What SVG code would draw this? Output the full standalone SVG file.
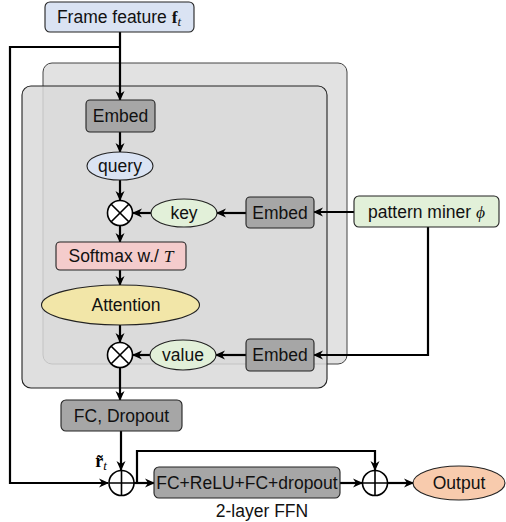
<svg xmlns="http://www.w3.org/2000/svg" width="506" height="522" viewBox="0 0 506 522">
<defs>
<marker id="arr" viewBox="0 0 10 10" refX="9" refY="5" markerWidth="10" markerHeight="10" markerUnits="userSpaceOnUse" orient="auto">
<path d="M0,0.5 L10,5 L0,9.5 L3,5 z" fill="#000"/>
</marker>
<style>
.t{font-family:"Liberation Sans",Arial,sans-serif;font-size:17.5px;fill:#111;text-anchor:middle;dominant-baseline:central}
.c{fill:none;stroke:#000;stroke-width:2.2}
.a{marker-end:url(#arr)}
.n{stroke:#222;stroke-width:1.1}
.emb{fill:#a6a6a6}
.op{fill:#fff;stroke:#000;stroke-width:1.6}
</style>
</defs>
<rect width="506" height="522" fill="#fff"/>
<g id="layer-back"><rect x="43" y="63" width="304" height="301" rx="9" fill="#e2e2e2" stroke="#444" stroke-width="1"/></g>
<g id="layer-front"><rect x="22" y="86" width="305" height="302" rx="9" fill="#d9d9d9" fill-opacity="0.85" stroke="#222" stroke-width="1.1"/></g>

<g id="connectors">
<path class="c a" d="M120,32 V100"/>
<path class="c a" d="M120,47 H10 V483 H108"/>
<path class="c a" d="M120,132 V152"/>
<path class="c a" d="M120,180 V200"/>
<path class="c a" d="M151,213 H133"/>
<path class="c a" d="M246,213 H217"/>
<path class="c a" d="M354,212 H314"/>
<path class="c a" d="M120,226 V242"/>
<path class="c a" d="M120,270 V285"/>
<path class="c a" d="M120,325 V342"/>
<path class="c a" d="M150,355 H133"/>
<path class="c a" d="M246,355 H216"/>
<path class="c a" d="M428,227 V355 H314"/>
<path class="c a" d="M120,368 V400"/>
<path class="c a" d="M121,431 V470"/>
<path class="c a" d="M134,483 H154"/>
<path class="c a" d="M137,483 V451 H375 V470"/>
<path class="c a" d="M340,483 H362"/>
<path class="c a" d="M388,483 H413"/>
</g>

<g id="frame-feature"><rect class="n" x="45" y="2" width="149" height="30" rx="5" fill="#dae3f3"/>
<text class="t" x="119" y="17"><tspan>Frame feature </tspan><tspan font-family="Liberation Serif,serif" font-weight="bold">f</tspan><tspan font-family="Liberation Serif,serif" font-style="italic" font-size="13" dy="4">t</tspan></text></g>

<g id="embed-query"><rect class="n emb" x="86" y="100" width="69" height="32" rx="4"/><text class="t" x="120.5" y="116">Embed</text></g>
<g id="query"><ellipse class="n" cx="120" cy="166" rx="33" ry="14" fill="#dae3f3"/><text class="t" x="120" y="166">query</text></g>
<g id="mul1"><circle class="op" cx="120" cy="213" r="12.5"/><path d="M111.2,204.2 L128.8,221.8 M128.8,204.2 L111.2,221.8" stroke="#000" stroke-width="1.6"/></g>
<g id="key"><ellipse class="n" cx="184" cy="213" rx="33" ry="14" fill="#e2f0d9"/><text class="t" x="184" y="213">key</text></g>
<g id="embed-key"><rect class="n emb" x="246" y="197" width="68" height="31" rx="4"/><text class="t" x="280" y="212.5">Embed</text></g>
<g id="pattern-miner"><rect class="n" x="354" y="196" width="145" height="31" rx="5" fill="#e2f0d9"/>
<text class="t" x="426.5" y="211.5"><tspan>pattern miner </tspan><tspan font-family="Liberation Serif,serif" font-style="italic">ϕ</tspan></text></g>
<g id="softmax"><rect class="n" x="56" y="242" width="130" height="28" rx="4" fill="#f4cccc"/>
<text class="t" x="121" y="256"><tspan>Softmax w./ </tspan><tspan font-family="Liberation Serif,serif" font-style="italic">T</tspan></text></g>
<g id="attention"><ellipse class="n" cx="120.5" cy="305" rx="79" ry="20" fill="#f2e6a8"/><text class="t" x="126" y="305" font-size="18.5">Attention</text></g>
<g id="mul2"><circle class="op" cx="120" cy="355" r="12.5"/><path d="M111.2,346.2 L128.8,363.8 M128.8,346.2 L111.2,363.8" stroke="#000" stroke-width="1.6"/></g>
<g id="value"><ellipse class="n" cx="183" cy="355" rx="33" ry="15" fill="#e2f0d9"/><text class="t" x="183" y="355">value</text></g>
<g id="embed-value"><rect class="n emb" x="246" y="339" width="68" height="32" rx="4"/><text class="t" x="280" y="355">Embed</text></g>
<g id="fc-dropout"><rect class="n emb" x="61" y="400" width="121" height="31" rx="5"/><text class="t" x="121.5" y="415.5">FC, Dropout</text></g>
<g id="r-label"><text x="101" y="461" font-family="Liberation Serif,serif" font-size="18" text-anchor="middle" dominant-baseline="central"><tspan font-weight="bold">r̃</tspan><tspan font-style="italic" font-size="13" dy="4">t</tspan></text></g>
<g id="add1"><circle class="op" cx="121.5" cy="483" r="12.5"/><path d="M109,483 H134 M121.5,470.5 V495.5" stroke="#000" stroke-width="1.6"/></g>
<g id="ffn"><rect class="n emb" x="154" y="467" width="186" height="31" rx="5"/><text class="t" x="247" y="482.5">FC+ReLU+FC+dropout</text>
<text class="t" x="262" y="511">2-layer FFN</text></g>
<g id="add2"><circle class="op" cx="375" cy="483" r="12.5"/><path d="M362.5,483 H387.5 M375,470.5 V495.5" stroke="#000" stroke-width="1.6"/></g>
<g id="output"><ellipse class="n" cx="459" cy="483" rx="46" ry="17" fill="#f8cbad"/><text class="t" x="459" y="483" font-size="20">Output</text></g>
</svg>
